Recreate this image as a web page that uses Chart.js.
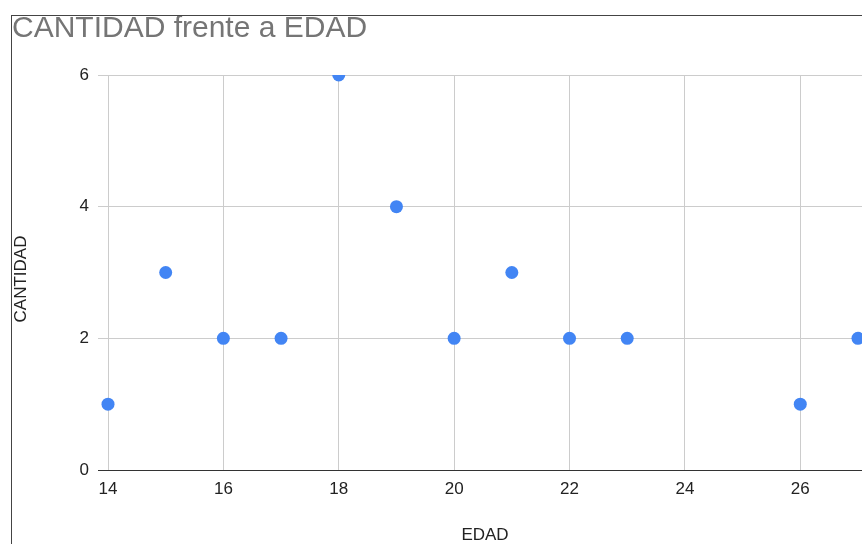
<!DOCTYPE html>
<html lang="es">
<head>
    <meta charset="UTF-8">
    <title>CANTIDAD frente a EDAD</title>
    <script src="https://cdn.jsdelivr.net/npm/chart.js"></script>
    <style>
        html, body { margin: 0; padding: 0; background: #fff; overflow: hidden; }
        #wrap { position: relative; width: 862px; height: 544px; }
        #frame {
            position: absolute; left: 11px; top: 15px; right: 0; bottom: 0;
            border-top: 1px solid #444; border-left: 1px solid #444;
            pointer-events: none;
        }
    </style>
</head>
<body>
<div id="wrap">
    <canvas id="chart" width="862" height="544"></canvas>
    <div id="frame"></div>
</div>
<script>
// data
const edad = [14, 15, 16, 17, 18, 19, 20, 21, 22, 23, 26, 27];
const cantidad = [1, 3, 2, 2, 6, 4, 2, 3, 2, 2, 1, 2];
const xTicks = [14, 16, 18, 20, 22, 24, 26];
const yTicks = [0, 2, 4, 6];
const chartTitle = 'CANTIDAD frente a EDAD';
const xTitle = 'EDAD';
const yTitle = 'CANTIDAD';

const font = "'Liberation Sans', Arial, sans-serif";

// y axis title sits a bit lower than the axis middle in the original
const yTitlePlugin = {
    id: 'yTitle',
    afterDraw(chart) {
        const ctx = chart.ctx;
        ctx.save();
        ctx.translate(21, 279);
        ctx.rotate(-Math.PI / 2);
        ctx.font = '17px ' + font;
        ctx.fillStyle = '#222';
        ctx.textAlign = 'center';
        ctx.textBaseline = 'middle';
        ctx.fillText(yTitle, 0, 0);
        ctx.restore();
    }
};

const points = edad.map((e, i) => ({ x: e, y: cantidad[i] }));

new Chart(document.getElementById('chart'), {
    type: 'scatter',
    data: {
        datasets: [{
            data: points,
            backgroundColor: '#4285f4',
            borderWidth: 0,
            pointRadius: 6.5,
            pointHoverRadius: 6.5,
            clip: { left: false, top: 0, right: false, bottom: false }
        }]
    },
    options: {
        responsive: false,
        animation: false,
        devicePixelRatio: 1,
        layout: { autoPadding: false, padding: { left: 12, top: 14, right: 0, bottom: 0 } },
        plugins: {
            legend: { display: false },
            tooltip: { enabled: false },
            title: {
                display: true,
                text: chartTitle,
                align: 'start',
                color: '#757575',
                font: { family: font, size: 30, weight: 'normal', lineHeight: 1 },
                padding: { top: 0, bottom: 31 }
            }
        },
        scales: {
            x: {
                type: 'linear',
                min: 14,
                max: 27.07,
                afterFit: s => { s.height = 74; },
                afterBuildTicks: s => { s.ticks = xTicks.map(v => ({ value: v })); },
                grid: { color: '#cccccc', drawTicks: false },
                border: { display: false },
                ticks: { color: '#222', padding: 9, font: { family: font, size: 17 } },
                title: {
                    display: true, text: xTitle, color: '#222',
                    font: { family: font, size: 17, lineHeight: 1 }, padding: 0
                }
            },
            y: {
                min: 0,
                max: 6,
                afterFit: s => { s.width = 96; },
                afterBuildTicks: s => { s.ticks = yTicks.map(v => ({ value: v })); },
                grid: {
                    color: c => c.tick && c.tick.value === 0 ? '#333333' : '#cccccc',
                    tickLength: 10
                },
                border: { display: false },
                ticks: { color: '#222', padding: 9, font: { family: font, size: 17 } }
            }
        }
    },
    plugins: [yTitlePlugin]
});
</script>
</body>
</html>
